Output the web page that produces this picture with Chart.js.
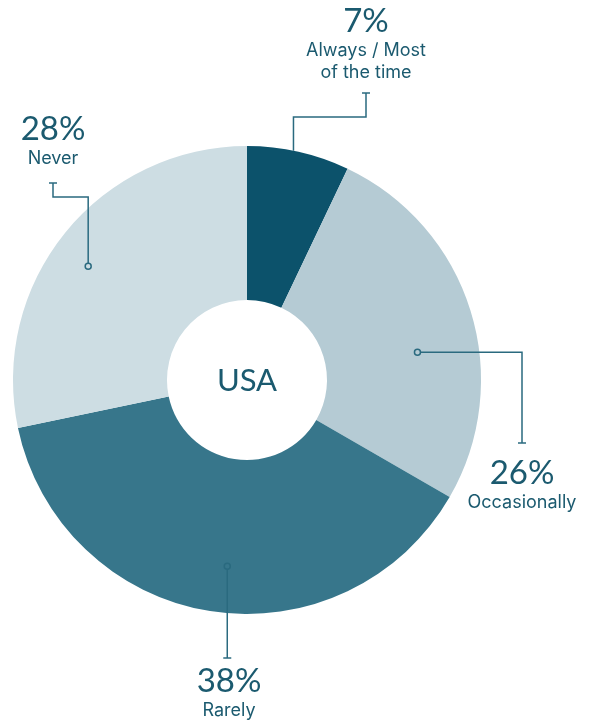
<!DOCTYPE html>
<html>
<head>
<meta charset="utf-8">
<script src="https://cdn.jsdelivr.net/npm/chart.js@4.4.1/dist/chart.umd.min.js"></script>
<style>
  html, body { margin: 0; padding: 0; background: #ffffff; }
  #wrap { width: 595px; height: 727px; position: relative; }
</style>
</head>
<body>
<div id="wrap"><canvas id="pieChart" width="595" height="727"></canvas></div>
<script>
// data
const categories = ["Always / Most of the time", "Occasionally", "Rarely", "Never"];
const shares = [7, 26, 38, 28];
const segmentColors = ["#0c526b", "#b5cbd4", "#37768b", "#cddde3"];
const centerTitle = "USA";

const textColor = "#1b5a6f";
const lineColor = "#2a6a7f";

// label layout: text lines, anchor position inside the slice (fraction of angle / radius), leader route
const labelLayout = [
    { lines: ["Always / Most", "of the time"], x: 366, y: 32, t: 0.45, r: 1.0, dot: false, route: "vh", elbowY: 117, capY: 93 },
    { lines: ["Occasionally"], x: 522, y: 484, t: 0.585, r: 0.738, dot: true, route: "hv", capY: 443 },
    { lines: ["Rarely"], x: 229, y: 692, t: 0.478, r: 0.80, dot: true, route: "v", capY: 658 },
    { lines: ["Never"], x: 53, y: 140, t: 0.466, r: 0.835, dot: true, route: "vh", elbowY: 197, capY: 183 }
];

const labelPlugin = {
    id: "leaderLabels",
    afterDatasetsDraw(chart) {
        const ctx = chart.ctx;
        const arcs = chart.getDatasetMeta(0).data;
        ctx.save();
        arcs.forEach((arc, i) => {
            const lay = labelLayout[i];
            const p = arc.getProps(["x", "y", "startAngle", "endAngle", "outerRadius"], true);
            const a = p.startAngle + (p.endAngle - p.startAngle) * lay.t;
            const ax = p.x + Math.cos(a) * p.outerRadius * lay.r;
            const ay = p.y + Math.sin(a) * p.outerRadius * lay.r;

            ctx.strokeStyle = lineColor;
            ctx.lineWidth = 1.5;
            ctx.beginPath();
            ctx.moveTo(ax, ay);
            if (lay.route === "vh") {
                ctx.lineTo(ax, lay.elbowY);
                ctx.lineTo(lay.x, lay.elbowY);
                ctx.lineTo(lay.x, lay.capY);
            } else if (lay.route === "hv") {
                ctx.lineTo(lay.x, ay);
                ctx.lineTo(lay.x, lay.capY);
            } else {
                ctx.lineTo(ax, lay.capY);
            }
            ctx.stroke();
            // end cap
            const capX = lay.route === "v" ? ax : lay.x;
            ctx.beginPath();
            ctx.moveTo(capX - 4, lay.capY);
            ctx.lineTo(capX + 4, lay.capY);
            ctx.stroke();
            if (lay.dot) {
                ctx.beginPath();
                ctx.arc(ax, ay, 3, 0, Math.PI * 2);
                ctx.fillStyle = segmentColors[i];
                ctx.fill();
                ctx.stroke();
            }

            // text
            ctx.fillStyle = textColor;
            ctx.textAlign = "center";
            ctx.textBaseline = "alphabetic";
            ctx.font = "33px Lato";
            ctx.fillText(shares[i] + "%", lay.x, lay.y);
            ctx.font = "18px Inter";
            lay.lines.forEach((ln, k) => {
                ctx.fillText(ln, lay.x, lay.y + 24 + k * 22);
            });
        });

        // center title
        const c = arcs[0];
        ctx.fillStyle = textColor;
        ctx.font = "31px Lato";
        ctx.textAlign = "center";
        ctx.textBaseline = "alphabetic";
        ctx.fillText(centerTitle, c.x, c.y + 11);
        ctx.restore();
    }
};

new Chart(document.getElementById("pieChart").getContext("2d"), {
    type: "doughnut",
    data: {
        labels: categories,
        datasets: [{
            data: shares,
            backgroundColor: segmentColors,
            borderWidth: 0
        }]
    },
    options: {
        responsive: false,
        animation: false,
        cutout: 80,
        layout: { padding: { left: 13, right: 114, top: 146, bottom: 113 } },
        plugins: {
            legend: { display: false },
            tooltip: { enabled: false }
        }
    },
    plugins: [labelPlugin]
});
</script>
</body>
</html>
